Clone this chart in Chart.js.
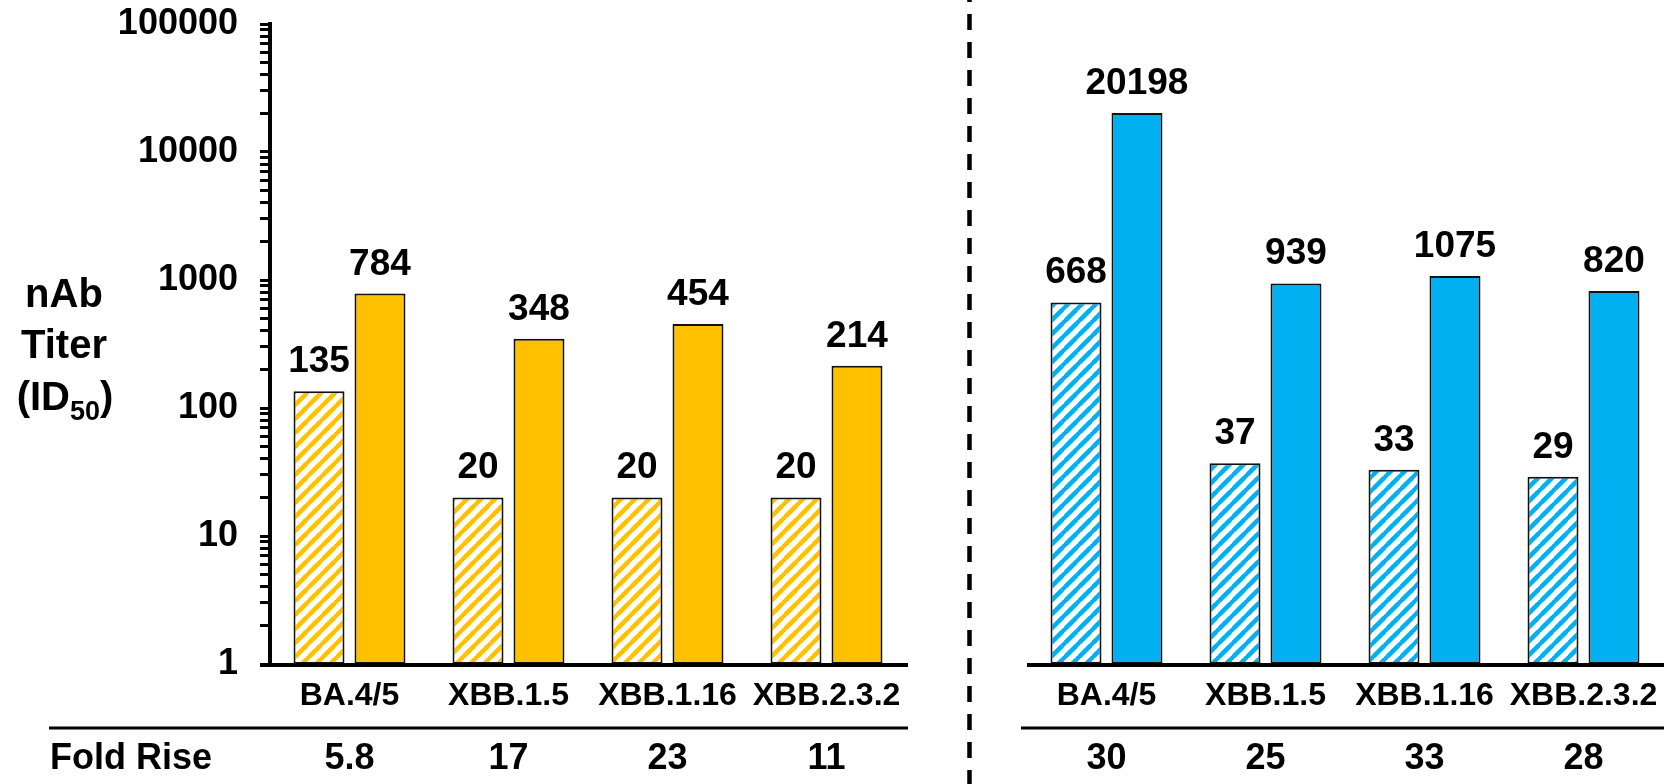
<!DOCTYPE html>
<html>
<head>
<meta charset="utf-8">
<script src="https://cdn.jsdelivr.net/npm/chart.js@4.4.1/dist/chart.umd.min.js"></script>
<style>
  html, body { margin: 0; padding: 0; background: #fff; overflow: hidden; }
  #wrap { position: relative; width: 1669px; height: 784px; }
  #wrap canvas { position: absolute; left: 0; top: 0; }
</style>
</head>
<body>
<div id="wrap">
  <canvas id="leftChart" width="1669" height="784"></canvas>
  <canvas id="rightChart" width="1669" height="784"></canvas>
</div>
<script>
const categories = ['BA.4/5', 'XBB.1.5', 'XBB.1.16', 'XBB.2.3.2'];
const leftPre = [135, 20, 20, 20];
const leftPost = [784, 348, 454, 214];
const rightPre = [668, 37, 33, 29];
const rightPost = [20198, 939, 1075, 820];
const leftFold = ['5.8', '17', '23', '11'];
const rightFold = ['30', '25', '33', '28'];
const tickLabels = ['1', '10', '100', '1000', '10000', '100000'];

const ORANGE = '#FFC000';
const BLUE = '#00B0F0';
const FONT = '"Liberation Sans", Arial, sans-serif';

// decade labels plus the minor marks in between (2..9 of each decade)
const yTickValues = [];
tickLabels.forEach((t, i) => {
    const d = Number(t);
    yTickValues.push(d);
    if (i < tickLabels.length - 1) {
        for (let k = 2; k <= 9; k++) yTickValues.push(d * k);
    }
});

function hatch(color) {
    const s = 14;
    const c = document.createElement('canvas');
    c.width = s; c.height = s;
    const g = c.getContext('2d');
    g.fillStyle = '#fff';
    g.fillRect(0, 0, s, s);
    g.strokeStyle = color;
    g.lineWidth = 4.5;
    g.beginPath();
    g.moveTo(-1, 1); g.lineTo(1, -1);
    g.moveTo(-1, s + 1); g.lineTo(s + 1, -1);
    g.moveTo(s - 1, s + 1); g.lineTo(s + 1, s - 1);
    g.stroke();
    return g.createPattern(c, 'repeat');
}

// value labels, category names, baseline, fold-rise row and (left only) y title + divider
function decorations(opts) {
    return {
        id: 'decorations',
        afterDatasetsDraw(chart) {
            const ctx = chart.ctx;
            const area = chart.chartArea;
            const xScale = chart.scales.x;
            ctx.save();

            ctx.fillStyle = '#000';
            ctx.textAlign = 'center';
            ctx.textBaseline = 'alphabetic';
            ctx.font = 'bold 37px ' + FONT;
            chart.data.datasets.forEach((ds, i) => {
                chart.getDatasetMeta(i).data.forEach((bar, j) => {
                    ctx.fillText(String(ds.data[j]), bar.x, bar.y - 19);
                });
            });

            // baseline
            ctx.strokeStyle = '#000';
            ctx.lineWidth = 4;
            ctx.beginPath();
            ctx.moveTo(opts.baseFrom, area.bottom + 1);
            ctx.lineTo(opts.baseTo, area.bottom + 1);
            ctx.stroke();

            // category names
            ctx.textBaseline = 'middle';
            ctx.font = 'bold 32px ' + FONT;
            chart.data.labels.forEach((c, i) => {
                ctx.fillText(c, xScale.getPixelForValue(i), 696);
            });

            // fold rise separator and values
            ctx.lineWidth = 3;
            ctx.beginPath();
            ctx.moveTo(opts.foldFrom, 728);
            ctx.lineTo(opts.foldTo, 728);
            ctx.stroke();

            ctx.font = 'bold 36px ' + FONT;
            opts.fold.forEach((f, i) => {
                ctx.fillText(f, xScale.getPixelForValue(i), 759);
            });

            if (opts.left) {
                ctx.textAlign = 'left';
                ctx.fillText('Fold Rise', 50, 759);

                // y axis title
                ctx.textAlign = 'center';
                ctx.textBaseline = 'alphabetic';
                ctx.font = 'bold 40px ' + FONT;
                ctx.fillText('nAb', 64, 307);
                ctx.fillText('Titer', 64, 358);
                const big = 'bold 40px ' + FONT;
                const small = 'bold 27px ' + FONT;
                ctx.font = big;
                const w1 = ctx.measureText('(ID').width;
                const w3 = ctx.measureText(')').width;
                ctx.font = small;
                const w2 = ctx.measureText('50').width;
                let x = 65 - (w1 + w2 + w3) / 2;
                ctx.textAlign = 'left';
                ctx.font = big;
                ctx.fillText('(ID', x, 410);
                x += w1;
                ctx.font = small;
                ctx.fillText('50', x, 420);
                x += w2;
                ctx.font = big;
                ctx.fillText(')', x, 410);

                // dashed divider
                ctx.lineWidth = 4.5;
                ctx.setLineDash([16, 12]);
                ctx.beginPath();
                ctx.moveTo(969.5, -14);
                ctx.lineTo(969.5, 800);
                ctx.stroke();
            }
            ctx.restore();
        }
    };
}

function makeChart(id, pre, post, color, fold, left) {
    const ctx = document.getElementById(id).getContext('2d');
    return new Chart(ctx, {
        type: 'bar',
        data: {
            labels: categories,
            datasets: [{
                data: pre,
                backgroundColor: hatch(color),
                borderColor: '#111',
                borderWidth: 2,
                borderSkipped: false
            }, {
                data: post,
                backgroundColor: color,
                borderColor: '#111',
                borderWidth: 2,
                borderSkipped: false
            }]
        },
        options: {
            responsive: false,
            animation: false,
            categoryPercentage: 0.767,
            barPercentage: 0.836,
            layout: {
                padding: left
                    ? { left: 0, right: 763, top: 24, bottom: 60 }
                    : { left: 1027, right: 6, top: 24, bottom: 60 }
            },
            plugins: {
                legend: { display: false },
                tooltip: { enabled: false }
            },
            scales: {
                x: {
                    grid: { display: false, drawTicks: false },
                    border: { display: false },
                    ticks: { display: false },
                    afterFit(scale) { scale.height = 60; }
                },
                y: {
                    type: 'logarithmic',
                    min: 1,
                    max: 100000,
                    display: left,
                    afterBuildTicks(scale) {
                        scale.ticks = yTickValues.map(v => ({ value: v }));
                    },
                    ticks: {
                        autoSkip: false,
                        padding: 22,
                        color: '#000',
                        font: { family: FONT, size: 36, weight: 'bold' },
                        callback: v => tickLabels.includes(String(v)) ? String(v) : ''
                    },
                    grid: {
                        display: true,
                        drawOnChartArea: false,
                        drawTicks: true,
                        tickLength: 10,
                        tickWidth: 3,
                        tickColor: '#000'
                    },
                    border: { display: true, color: '#000', width: 4 },
                    afterFit(scale) {
                        scale.width = left ? 270 : 0;
                        scale.paddingTop = 0;
                        scale.paddingBottom = 0;
                    }
                }
            }
        },
        plugins: [decorations(left
            ? { left: true, fold: fold, baseFrom: 260, baseTo: 908, foldFrom: 49, foldTo: 908 }
            : { left: false, fold: fold, baseFrom: 1027, baseTo: 1664, foldFrom: 1021, foldTo: 1664 })]
    });
}

makeChart('leftChart', leftPre, leftPost, ORANGE, leftFold, true);
makeChart('rightChart', rightPre, rightPost, BLUE, rightFold, false);
</script>
</body>
</html>
